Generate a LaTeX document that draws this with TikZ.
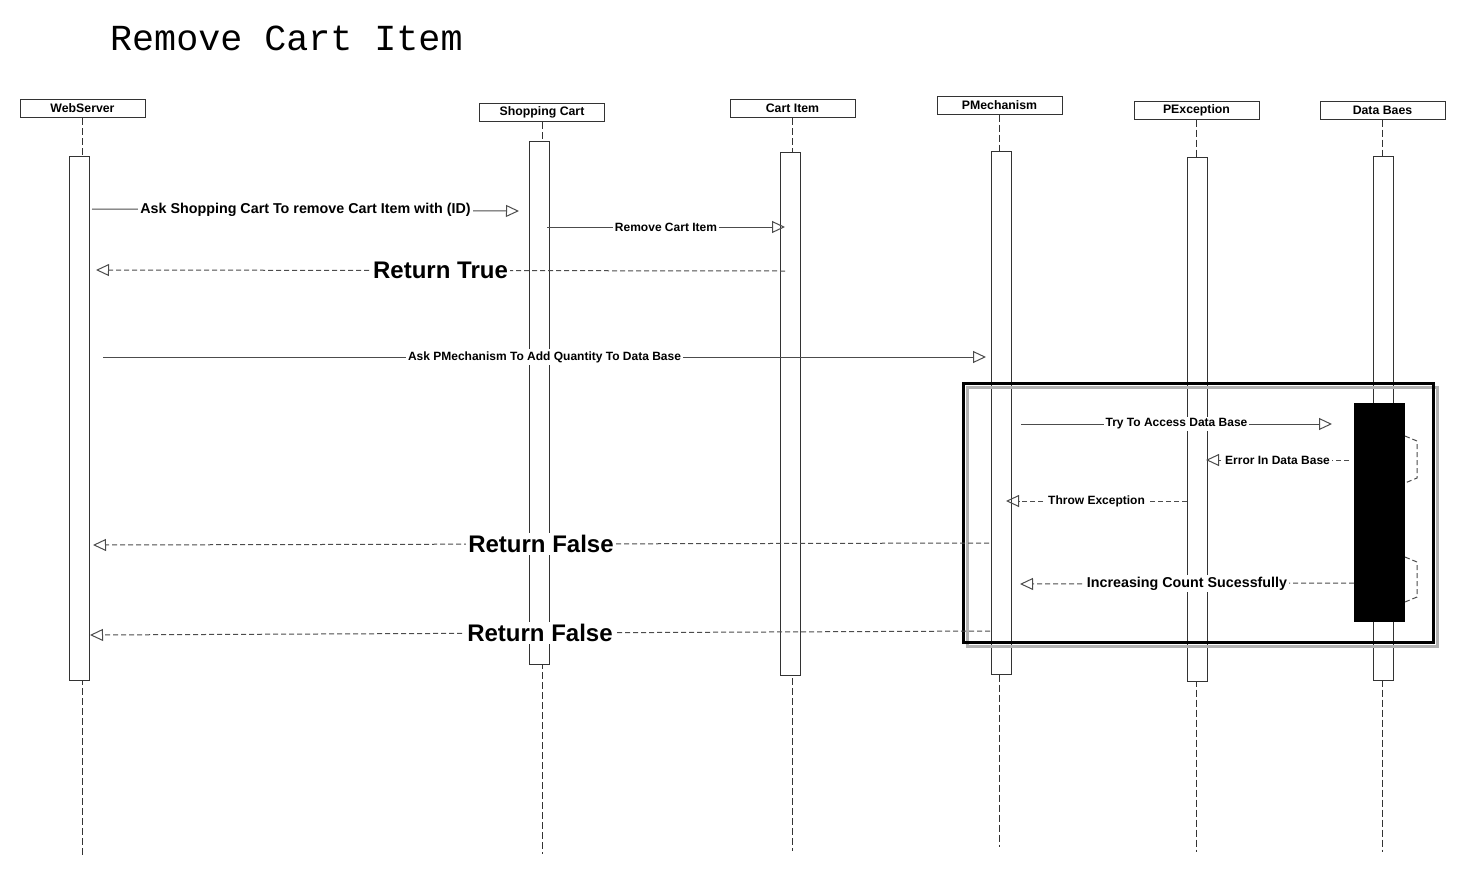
\documentclass[tikz,border=0pt]{standalone}
\usepackage{fontspec}
\setmainfont{Liberation Sans}
\newfontfamily\titlefont{Liberation Mono}
\usetikzlibrary{arrows.meta}
\tikzset{
    head/.style={draw=black!80, line width=1pt, minimum width=125pt, minimum height=18pt, inner sep=0pt, font=\bfseries\fontsize{12.3}{14}\selectfont},
    bar/.style={draw=black!80, fill=white, line width=1pt, minimum width=20pt, inner sep=0pt},
    life/.style={draw=black!80, line width=1pt, dash pattern=on 7pt off 3pt},
    msg/.style={draw=black!70, line width=1pt, -{Triangle[open, length=13pt, width=12pt]}},
    ret/.style={msg, dash pattern=on 5pt off 3pt},
    lbl/.style={fill=white, inner sep=2pt, font=\bfseries\fontsize{12}{14}\selectfont},
    biglbl/.style={lbl, font=\bfseries\fontsize{24}{28}\selectfont},
    midlbl/.style={lbl, font=\bfseries\fontsize{14.3}{16}\selectfont}
}
\begin{document}
\begin{tikzpicture}[x=1pt, y=-1pt]
    \useasboundingbox (0,0) rectangle (1466,876);
    \node[font=\titlefont\fontsize{36.7}{40}\selectfont, anchor=base west, inner sep=0pt] (title) at (110,50) {Remove Cart Item};

    % lifelines
    \node[head] (ws) at (82.5,108.5) {WebServer};
    \node[head] (sc) at (542,112.5) {Shopping Cart};
    \node[head] (ci) at (792.5,108.5) {Cart Item};
    \node[head] (pm) at (999.5,105) {PMechanism};
    \node[head] (pe) at (1196.5,110) {PException};
    \node[head] (db) at (1382.5,110) {Data Baes};
    \coordinate (wsend) at (82.5,856);
    \coordinate (scend) at (542,854);
    \coordinate (ciend) at (792.5,851);
    \coordinate (pmend) at (999.5,847);
    \coordinate (peend) at (1196.5,852);
    \coordinate (dbend) at (1382.5,852);
    \draw[life] (ws.south) -- (wsend);
    \draw[life] (sc.south) -- (scend);
    \draw[life] (ci.south) -- (ciend);
    \draw[life] (pm.south) -- (pmend);
    \draw[life] (pe.south) -- (peend);
    \draw[life] (db.south) -- (dbend);

    % activation bars
    \node[bar, minimum height=524pt] (wsbar) at (79,418) {};
    \node[bar, minimum height=523pt] (scbar) at (539,402.5) {};
    \node[bar, minimum height=523pt] (cibar) at (790,413.5) {};
    \node[bar, minimum height=523pt] (pmbar) at (1001,412.5) {};
    \node[bar, minimum height=524pt] (pebar) at (1197,419) {};
    \node[bar, minimum height=524pt] (dbbar) at (1383,418) {};

    % fragment
    \node[draw=black!30, line width=3pt, minimum width=470pt, minimum height=259pt, inner sep=0pt] (fragshadow) at (1202,516.5) {};
    \node[draw=black, line width=3pt, minimum width=470pt, minimum height=259pt, inner sep=0pt] (frag) at (1198,512.5) {};
    \node[fill=black, minimum width=51pt, minimum height=219pt, inner sep=0pt] (dbact) at (1379.5,512.5) {};

    % messages
    \coordinate (m1a) at (92,209);    \coordinate (m1b) at (519,211);
    \coordinate (m2a) at (547,227);   \coordinate (m2b) at (785,227);
    \coordinate (m3a) at (785,271);   \coordinate (m3b) at (96,270);
    \coordinate (m4a) at (103,357);   \coordinate (m4b) at (986,357);
    \coordinate (m5a) at (1021,424);  \coordinate (m5b) at (1332,424);
    \coordinate (m6a) at (1349,460);  \coordinate (m6b) at (1206,460);
    \coordinate (m7a) at (1187,501);  \coordinate (m7b) at (1006,501);
    \coordinate (m8a) at (989,543);   \coordinate (m8b) at (93,545);
    \coordinate (m9a) at (1354,583);  \coordinate (m9b) at (1020,584);
    \coordinate (m10a) at (990,631);  \coordinate (m10b) at (90,635);
    \draw[msg] (m1a) -- node[midlbl] {Ask Shopping Cart To remove Cart Item with (ID)} (m1b);
    \draw[msg] (m2a) -- node[lbl] {Remove Cart Item} (m2b);
    \draw[ret] (m3a) -- node[biglbl] {Return True} (m3b);
    \draw[msg] (m4a) -- node[lbl] {Ask PMechanism To Add Quantity To Data Base} (m4b);
    \draw[msg] (m5a) -- node[lbl] {Try To Access Data Base} (m5b);
    \draw[ret] (m6a) -- node[lbl] {Error In Data Base} (m6b);
    \draw[ret] (m7a) -- node[lbl] {Throw Exception} (m7b);
    \draw[ret] (m8a) -- node[biglbl] {Return False} (m8b);
    \draw[ret] (m9a) -- node[midlbl] {Increasing Count Sucessfully} (m9b);
    \draw[ret] (m10a) -- node[biglbl] {Return False} (m10b);

    % self calls on the data base
    \coordinate (loop1a) at (1405,436); \coordinate (loop1b) at (1405,483);
    \coordinate (loop2a) at (1405,557); \coordinate (loop2b) at (1405,602);
    \draw[draw=black!70, line width=1pt, dash pattern=on 5pt off 3pt] (loop1a) -- ++(12,5) -- ++(0,37) -- (loop1b);
    \draw[draw=black!70, line width=1pt, dash pattern=on 5pt off 3pt] (loop2a) -- ++(12,5) -- ++(0,35) -- (loop2b);
\end{tikzpicture}
\end{document}
